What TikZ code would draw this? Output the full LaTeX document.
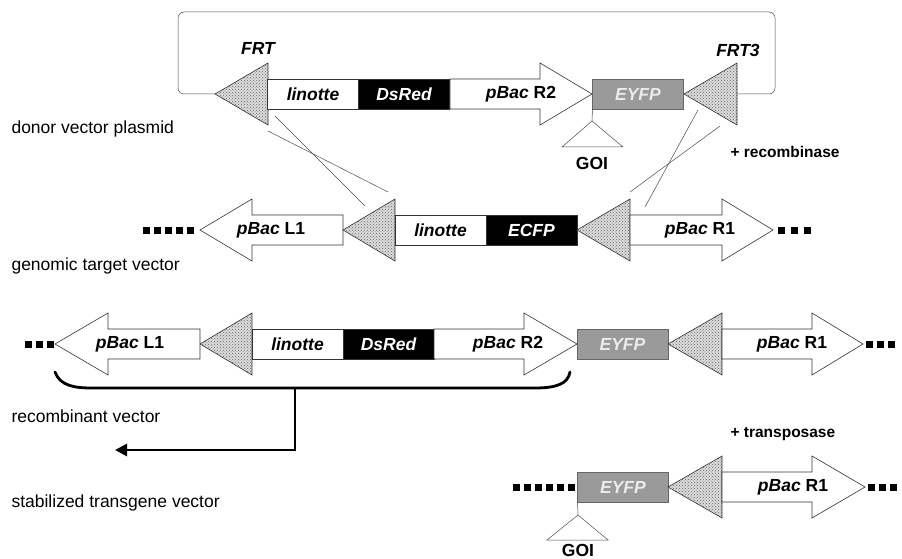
\documentclass[tikz,border=0pt]{standalone}
\usepackage{fontspec}
\setmainfont{Liberation Sans}
\usetikzlibrary{arrows.meta,patterns}
\definecolor{yfpgray}{HTML}{9A9A9A}
\newcommand{\genefont}{\fontsize{17.5}{20}\selectfont\bfseries}
\tikzset{
  seg/.style={draw=black!80,line width=0.6pt},
  frt/.style={seg,preaction={fill=black!14},pattern=crosshatch dots,pattern color=black!60},
  pbac/.style={seg,fill=white},
  wbox/.style={seg,fill=white,minimum width=91pt,minimum height=30pt,inner sep=0pt,outer sep=0pt,font=\genefont\itshape},
  kbox/.style={wbox,fill=black,text=white},
  ybox/.style={wbox,fill=yfpgray,draw=black!60,text=white!92!black},
  gtxt/.style={font=\genefont},
  rowlbl/.style={anchor=west,font=\fontsize{17.5}{20}\selectfont},
  enz/.style={anchor=west,font=\fontsize{15.5}{18}\selectfont\bfseries},
  sitelbl/.style={font=\genefont\itshape},
  dots/.style={line width=7pt,dash pattern=on 7pt off 4pt},
  bracket/.style={line width=2.8pt,line cap=round},
  thin/.style={draw=black!70,line width=0.5pt},
}
% FRT site pointing left: tip x, base x, centre y
\newcommand{\frtsite}[3]{\draw[frt] (#1,#3) -- (#2,#3-31) -- (#2,#3+31) -- cycle;}
% arm pointing right: body start, head base, tip, centre y
\newcommand{\armR}[4]{\draw[pbac] (#1,#4-15) -- (#2,#4-15) -- (#2,#4-31) -- (#3,#4) -- (#2,#4+31) -- (#2,#4+15) -- (#1,#4+15) -- cycle;}
% arm pointing left: tip, head base, body end, centre y
\newcommand{\armL}[4]{\draw[pbac] (#3,#4-15) -- (#2,#4-15) -- (#2,#4-31) -- (#1,#4) -- (#2,#4+31) -- (#2,#4+15) -- (#3,#4+15) -- cycle;}

\begin{document}
\begin{tikzpicture}[x=1pt,y=-1pt]
\useasboundingbox[fill=white] (0,0) rectangle (902,559);

% donor vector plasmid
\coordinate (loopL) at (215,94);
\coordinate (loopR) at (737,94);
\draw[thin,rounded corners=6pt] (loopL) -- (178,94) -- (178,12) -- (775,12) -- (775,94) -- (loopR);
\frtsite{215}{268}{94}
\node[wbox] (lin1) at (313,94) {linotte};
\node[kbox] (red1) at (404,94) {DsRed};
\armR{450}{540}{592}{94}
\node[gtxt] (r2a) at (521,94) {\textit{pBac} R2};
\node[ybox] (yfp1) at (638,94) {EYFP};
\frtsite{684}{737}{94}
\node[sitelbl] (frt1) at (258,48) {FRT};
\node[sitelbl] (frt3) at (738,50) {FRT3};
\coordinate (goi1) at (592,121);
\draw[thin] (yfp1.south west) -- (goi1);
\draw[thin] (goi1) -- (562,147) -- (623,147) -- cycle;
\node[gtxt] (goilbl1) at (592,163) {GOI};
\node[rowlbl] (donor) at (8,129) {donor vector plasmid};
\node[enz] (recomb) at (727,152) {+ recombinase};

% crossover lines
\coordinate (xa1) at (275,116); \coordinate (xa2) at (365,206);
\coordinate (xb1) at (268,131); \coordinate (xb2) at (388,192);
\coordinate (xc1) at (698,110); \coordinate (xc2) at (645,207);
\coordinate (xd1) at (720,126); \coordinate (xd2) at (630,192);
\draw[thin] (xa1) -- (xa2);
\draw[thin] (xb1) -- (xb2);
\draw[thin] (xc1) -- (xc2);
\draw[thin] (xd1) -- (xd2);

% genomic target vector
\draw[dots] (143,230) -- (197,230);
\armL{200}{252}{343}{230}
\node[gtxt] (l1a) at (271,230) {\textit{pBac} L1};
\frtsite{343}{395}{230}
\node[wbox] (lin2) at (440.5,230) {linotte};
\node[kbox] (cfp2) at (531.5,230) {ECFP};
\frtsite{577}{630}{230}
\armR{630}{722}{773}{230}
\node[gtxt] (r1a) at (700,230) {\textit{pBac} R1};
\draw[dots,dash pattern=on 7pt off 6pt] (778,230) -- (812,230);
\node[rowlbl] (genomic) at (8,266) {genomic target vector};

% recombinant vector
\draw[dots] (25,344) -- (54,344);
\armL{55}{108}{200}{344}
\node[gtxt] (l1b) at (130,344) {\textit{pBac} L1};
\frtsite{200}{252}{344}
\node[wbox] (lin3) at (297.5,344) {linotte};
\node[kbox] (red3) at (388.5,344) {DsRed};
\armR{434}{524}{577}{344}
\node[gtxt] (r2b) at (508,344) {\textit{pBac} R2};
\node[ybox] (yfp3) at (622.5,344) {EYFP};
\frtsite{668}{722}{344}
\armR{722}{812}{863}{344}
\node[gtxt] (r1b) at (792,344) {\textit{pBac} R1};
\draw[dots] (866,344) -- (897,344);
\node[rowlbl] (recvec) at (8,416) {recombinant vector};

\coordinate (brk) at (295,388);
\coordinate (outarr) at (115,450);
\draw[bracket] (55,372) .. controls (60,386) and (75,388) .. (92,388) -- (535,388) .. controls (556,388) and (568,384) .. (570,372);
\draw[line width=2.8pt,-{Triangle[length=12pt,width=12pt]}] (brk) |- (outarr);
\node[enz] (transp) at (727,434) {+ transposase};

% stabilized transgene vector
\draw[dots] (513,487) -- (577,487);
\node[ybox] (yfp4) at (623,487) {EYFP};
\frtsite{668}{722}{487}
\armR{722}{812}{865}{487}
\node[gtxt] (r1c) at (793,487) {\textit{pBac} R1};
\draw[dots] (868,487) -- (899,487);
\coordinate (goi4) at (578,515);
\draw[thin] (yfp4.south west) -- (goi4);
\draw[thin] (goi4) -- (547,540) -- (608,540) -- cycle;
\node[gtxt] (goilbl4) at (578,550) {GOI};
\node[rowlbl] (stab) at (8,503) {stabilized transgene vector};
\end{tikzpicture}
\end{document}
